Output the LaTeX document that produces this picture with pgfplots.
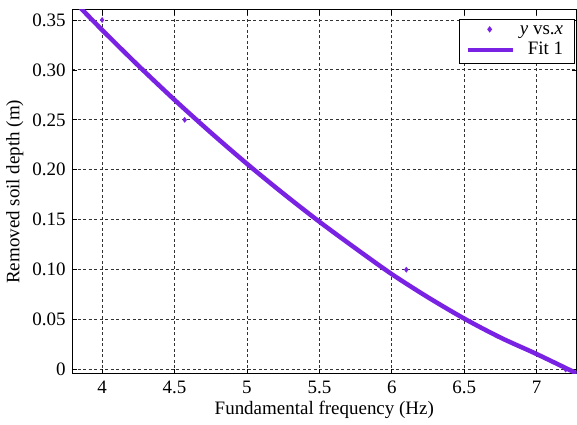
\documentclass[border=0pt]{standalone}
\usepackage{pgfplots}
\pgfplotsset{compat=1.18}
\usepackage{fontspec}
\setmainfont{Liberation Serif}
\definecolor{fitc}{RGB}{122,34,228}
\pgfplotsset{
  markleg/.style={legend image code/.code={\draw[##1, only marks] plot coordinates {(22pt,2pt)};}},
  lineleg/.style={legend image code/.code={\draw[##1] (0pt,0pt) -- (45pt,0pt);}},
}
\begin{document}
\fontsize{19}{22}\selectfont
\begin{tikzpicture}
\begin{axis}[
  name=ax,
  scale only axis,
  width=505pt, height=364pt,
  xmin=3.793, xmax=7.275,
  ymin=-0.004, ymax=0.36,
  xtick={4,4.5,5,5.5,6,6.5,7},
  xticklabels={\textrm{4},\textrm{4.5},\textrm{5},\textrm{5.5},\textrm{6},\textrm{6.5},\textrm{7}},
  ytick={0,0.05,0.1,0.15,0.2,0.25,0.3,0.35},
  yticklabels={\textrm{0},\textrm{0.05},\textrm{0.10},\textrm{0.15},\textrm{0.20},\textrm{0.25},\textrm{0.30},\textrm{0.35}},
  /pgf/number format/assume math mode=true,
  tick label style={font=\fontsize{19}{22}\selectfont},
  xticklabel style={yshift=-1pt},
  label style={font=\fontsize{19}{22}\selectfont},
  xlabel={Fundamental frequency (Hz)},
  ylabel={Removed soil depth (m)},
  xlabel style={yshift=6pt},
  ylabel style={yshift=-4pt},
  tick align=inside,
  major tick length=5pt,
  tick style={black, line width=0.8pt},
  axis line style={black, line width=1pt},
  grid=major,
  major grid style={black!80, line width=0.9pt, dash pattern=on 3pt off 2.5pt},
  legend style={at={(rel axis cs:0.996,0.975)}, anchor=north east,
    draw=black, line width=0.8pt, font=\fontsize{19}{22}\selectfont,
    inner xsep=6pt, inner ysep=4pt, row sep=1pt,
    nodes={inner xsep=5pt}},
  legend cell align=right,
  clip=true,
]
\addplot[only marks, mark=diamond*, mark size=2.6pt, color=fitc, markleg] coordinates {
  (4.0,0.350) (4.57,0.250) (6.1,0.100) (7.2,0.000)
};
\addlegendentry{\textit{y} vs.\textit{x}}
\addplot[color=fitc, line width=4.5pt, smooth, lineleg] coordinates {
  (3.85,0.3622) (4.0,0.340) (4.25,0.3043) (4.5,0.270) (4.75,0.2373)
  (5.0,0.206) (5.25,0.1763) (5.5,0.148) (5.75,0.1213) (6.0,0.0955)
  (6.25,0.0723) (6.5,0.051) (6.75,0.032) (7.0,0.0155) (7.3,-0.0055)
};
\addlegendentry{Fit 1}
\end{axis}
\path (ax.north) ++(0,10pt) coordinate (topm);
\path[use as bounding box] (current bounding box.south west) rectangle (current bounding box.east |- topm);
\end{tikzpicture}
\end{document}
